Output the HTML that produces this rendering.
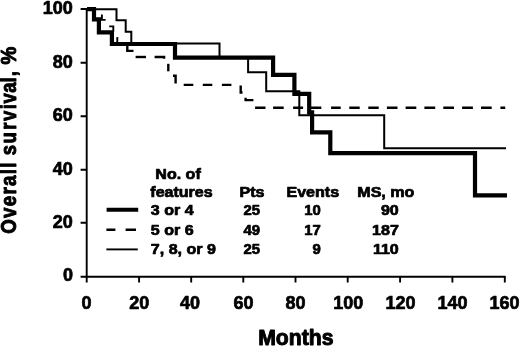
<!DOCTYPE html>
<html>
<head>
<meta charset="utf-8">
<title>Overall survival</title>
<style>
html,body{margin:0;padding:0;background:#fff;}
body{width:520px;height:347px;overflow:hidden;}
svg{display:block;}
text{font-family:"Liberation Sans",sans-serif;font-weight:bold;fill:#000;stroke:#000;stroke-width:0.7px;stroke-linejoin:round;}
.t text,text.t{stroke-width:0.95px;}
</style>
</head>
<body>
<svg width="520" height="347" viewBox="0 0 520 347">
<rect x="0" y="0" width="520" height="347" fill="#fff"/>
<!-- axes -->
<g stroke="#000" stroke-width="1.9" fill="none">
<path d="M86.7,8.1 V282.6 M80.6,276.8 H505.7"/>
<path d="M80.6,9.0 H86.7 M80.6,62.8 H86.7 M80.6,116.3 H86.7 M80.6,169.8 H86.7 M80.6,222.8 H86.7"/>
<path d="M139.1,276.8 V282.6 M191.2,276.8 V282.6 M243.3,276.8 V282.6 M295.5,276.8 V282.6 M347.7,276.8 V282.6 M400.1,276.8 V282.6 M452.4,276.8 V282.6 M504.8,276.8 V282.6"/>
</g>
<!-- thin curve: 7, 8, or 9 features -->
<path d="M87,9.25 H116.5 V20.25 H125.7 V31.75 H131.3 V43.55 H219.5 V57.65 H248.1 V72.35 H266.2 V91.35 H299.3 V115.15 H384.2 V148.15 H506" stroke="#000" stroke-width="2" fill="none"/>
<!-- dashed curve: 5 or 6 features -->
<g stroke="#000" stroke-width="2.4" fill="none">
<path d="M101.9,14.6 V19.9 H105.6" stroke-width="1.9"/>
<path d="M109.2,26.4 H113.3 V31.8" stroke-width="1.9"/>
<path d="M117.3,37.1 V43.3" stroke-width="1.9"/>
<path d="M127.3,44.3 V50.9 H133.5"/>
<path d="M135.6,57 H146"/>
<path d="M154.6,57 H164.1 V58.8"/>
<path d="M168.3,63.8 V71.3"/>
<path d="M173,75.8 H175.6 V83.6"/>
<path d="M183.7,84.9 H193.3 M202.8,84.9 H212.3 M221.9,84.9 H231.4"/>
<path d="M240.7,85.6 V92.5 H242.5"/>
<path d="M245.6,97.8 V100.1 H253.4"/>
<path d="M255.1,107.8 H265.5 M273.1,107.8 H283.7 M293.1,107.8 H303.1 M310.6,107.8 H321.3 M331.1,107.8 H340.7 M349.3,107.8 H359.7 M368.3,107.8 H378.7 M386.9,107.8 H397.5 M405.6,107.8 H416.3 M424.4,107.8 H435.2 M443.3,107.8 H454 M462.1,107.8 H472.9 M481,107.8 H491.7 M500.4,107.8 H505.2"/>
</g>
<!-- thick curve: 3 or 4 features -->
<path d="M87,9.2 H94 V19.3 H98.9 V32.3 H111.9 V44 H175 V57.6 H273.1 V74.9 H294.4 V93.9 H309.2 V112.3 H312.1 V132.3 H330.3 V153.2 H475 V195.3 H507" stroke="#000" stroke-width="4.2" fill="none" stroke-linejoin="miter"/>
<!-- legend lines -->
<path d="M106.6,209.8 H138.2" stroke="#000" stroke-width="4" fill="none"/>
<path d="M106.4,229.8 H115.4 M125.6,229.8 H136" stroke="#000" stroke-width="2.6" fill="none"/>
<path d="M106.4,249.4 H137.8" stroke="#000" stroke-width="1.9" fill="none"/>
<!-- y tick labels -->
<g font-size="18" text-anchor="end">
<text x="72.9" y="13.5">100</text>
<text x="72.9" y="68.1">80</text>
<text x="72.9" y="121.2">60</text>
<text x="72.9" y="175.0">40</text>
<text x="72.9" y="228.0">20</text>
<text x="72.9" y="281.4">0</text>
</g>
<!-- x tick labels -->
<g font-size="18" text-anchor="middle">
<text x="86.6" y="308.8">0</text>
<text x="139.2" y="308.8">20</text>
<text x="190.0" y="308.8">40</text>
<text x="243.6" y="308.8">60</text>
<text x="295.4" y="308.8">80</text>
<text x="348.2" y="308.8">100</text>
<text x="400.5" y="308.8">120</text>
<text x="452.5" y="308.8">140</text>
<text x="504.4" y="308.8">160</text>
</g>
<!-- axis titles -->
<text x="295.8" y="344.6" font-size="21.2" text-anchor="middle" class="t">Months</text>
<g class="t" font-size="21.5" letter-spacing="1.47">
<text transform="translate(16.3,233.7) rotate(-90) scale(0.87 1)">Overall</text>
<text transform="translate(16.3,155.2) rotate(-90) scale(0.86 1)" dx="0 0.3 1.3 0.4 0 -0.6 -1.0 -1.6 0">survival,</text>
<text transform="translate(16.3,64.6) rotate(-90) scale(0.93 1)">%</text>
</g>
<!-- legend text -->
<g font-size="14.6">
<text transform="translate(155.3 178.8) scale(1.1 1)">No. of</text>
<text transform="translate(150.3 196.5) scale(1.1 1)">features</text>
<text transform="translate(150.8 215.4) scale(1.1 1)">3 or 4</text>
<text transform="translate(150.8 234.7) scale(1.1 1)">5 or 6</text>
<text transform="translate(150.8 253.7) scale(1.1 1)">7, 8, or 9</text>
<text transform="translate(239.5 196.8) scale(1.1 1)">Pts</text>
<text transform="translate(243.4 215.4) scale(1.02 1)">25</text>
<text transform="translate(243.4 234.7) scale(1.02 1)">49</text>
<text transform="translate(243.4 253.7) scale(1.02 1)">25</text>
<text transform="translate(286.5 196.8) scale(1.1 1)">Events</text>
<text transform="translate(320.7 215.4) scale(1.02 1)" text-anchor="end">10</text>
<text transform="translate(320.7 234.7) scale(1.02 1)" text-anchor="end">17</text>
<text transform="translate(320.7 253.7) scale(1.02 1)" text-anchor="end">9</text>
<text transform="translate(357.3 196.8) scale(1.1 1)">MS, mo</text>
<text transform="translate(398.8 215.4) scale(1.1 1)" text-anchor="end">90</text>
<text transform="translate(398.8 234.7) scale(1.1 1)" text-anchor="end">187</text>
<text transform="translate(398.8 253.7) scale(1.1 1)" text-anchor="end">110</text>
</g>
</svg>
</body>
</html>
